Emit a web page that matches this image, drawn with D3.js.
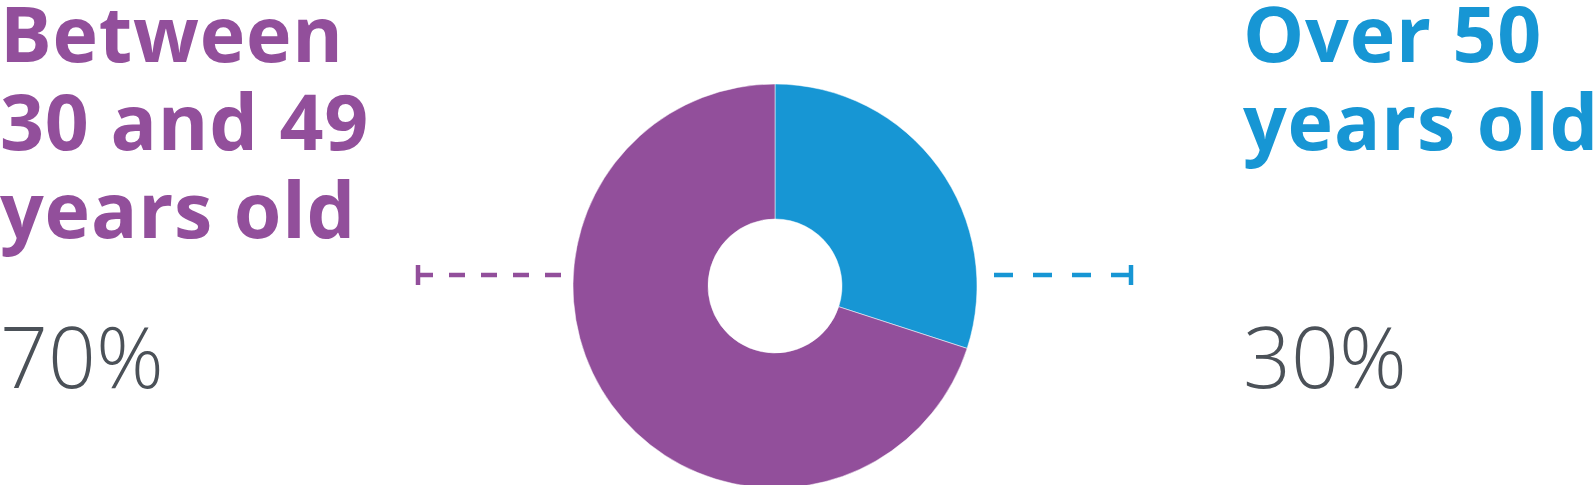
<html>
	<head>
		<script src="https://cdn.jsdelivr.net/npm/d3@7"></script>
		<style>
			body { margin: 0; background: #fff; }
		</style>
	</head>
	<body>
		<svg width="1594" height="485"></svg>
		<script>

		// data
		var groups = ["Over 50 years old", "Between 30 and 49 years old"];
		var values = [30, 70];
		var labelLines = [["Over 50", "years old"], ["Between", "30 and 49", "years old"]];
		var pctLabels = ["30%", "70%"];

		var svg = d3.select("svg"),
			cx = 775, cy = 286,
			outerR = 202, innerR = 67;

		var color = d3.scaleOrdinal()
			.domain(groups)
			.range(["#1796d4", "#924f9b"]);

		var pie = d3.pie().sort(null).value(function(d, i) { return values[i]; });
		var arc = d3.arc().innerRadius(innerR).outerRadius(outerR);

		var g = svg.append("g").attr("transform", "translate(" + cx + "," + cy + ")");

		g.selectAll("path")
			.data(pie(groups))
			.enter().append("path")
			.attr("d", arc)
			.attr("fill", function(d) { return color(d.data); })
			.attr("stroke", "#fff")
			.attr("stroke-width", 0.5);

		// leader lines
		var lineY = 275;
		var leaders = [
			{ key: groups[0], x1: 994, x2: 1131, dash: "19,20", tickX: 1131 },
			{ key: groups[1], x1: 561, x2: 418, dash: "16,16", tickX: 418 }
		];
		leaders.forEach(function(l) {
			svg.append("line")
				.attr("x1", l.x1).attr("x2", l.x2)
				.attr("y1", lineY).attr("y2", lineY)
				.attr("stroke", color(l.key))
				.attr("stroke-width", 4.5)
				.attr("stroke-dasharray", l.dash);
			svg.append("line")
				.attr("x1", l.tickX).attr("x2", l.tickX)
				.attr("y1", lineY - 10).attr("y2", lineY + 10)
				.attr("stroke", color(l.key))
				.attr("stroke-width", 4.5);
		});

		// labels
		var labelX = [1243, 0];
		groups.forEach(function(key, i) {
			var t = svg.append("text")
				.attr("x", labelX[i])
				.attr("y", 62)
				.attr("fill", color(key))
				.style("font-family", "'Open Sans', sans-serif")
				.style("font-weight", 700)
				.style("font-size", "77px")
				.style("letter-spacing", "0.8px");
			labelLines[i].forEach(function(line, j) {
				t.append("tspan")
					.attr("x", labelX[i])
					.attr("y", 62 + j * 88)
					.text(line);
			});

			svg.append("text")
				.attr("x", labelX[i])
				.attr("y", 388)
				.attr("fill", "#4b5158")
				.style("font-family", "'Open Sans', sans-serif")
				.style("font-weight", 300)
				.style("font-size", "84px")
				.text(pctLabels[i]);
		});
		</script>
	</body>
</html>
